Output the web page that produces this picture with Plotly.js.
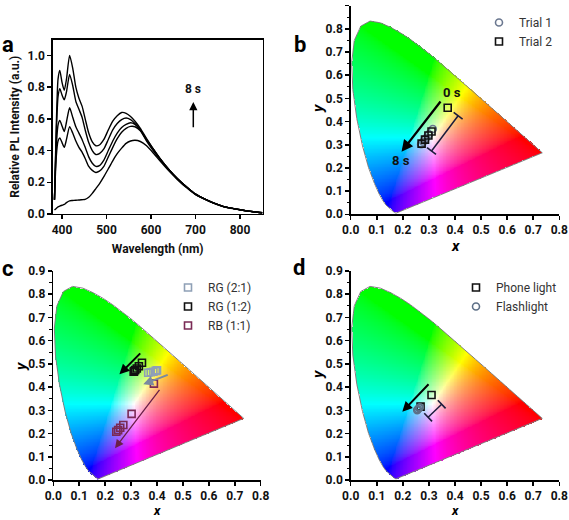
<!DOCTYPE html>
<html><head><meta charset="utf-8">
<script src="https://cdn.plot.ly/plotly-3.0.1.min.js"></script>
<style>html,body{margin:0;padding:0;background:#fff}#chart{width:569px;height:520px}</style>
</head><body><div id="chart"></div>
<script>
// ---------- Panel a : PL spectra ----------
const wavelength = [383,387,391,395,400,405,410,417,424,431,438,445,452,460,468,476,484,494,504,514,524,534,544,554,564,576,590,605,620,640,660,680,700,720,740,760,780,800,820,840,850];
const pl_8s = [0.09,0.55,0.85,0.905,0.83,0.78,0.85,1.00,0.92,0.80,0.73,0.68,0.60,0.51,0.455,0.43,0.435,0.47,0.53,0.585,0.62,0.64,0.635,0.615,0.585,0.54,0.475,0.41,0.35,0.28,0.22,0.17,0.125,0.095,0.07,0.05,0.037,0.027,0.018,0.011,0.008];
const pl_6s = [0.09,0.50,0.74,0.79,0.75,0.72,0.77,0.88,0.81,0.71,0.66,0.61,0.53,0.45,0.40,0.375,0.38,0.41,0.47,0.53,0.57,0.595,0.605,0.595,0.57,0.53,0.47,0.41,0.35,0.28,0.22,0.17,0.125,0.095,0.07,0.05,0.037,0.027,0.018,0.011,0.008];
const pl_4s = [0.09,0.42,0.56,0.59,0.555,0.52,0.58,0.67,0.61,0.55,0.51,0.47,0.42,0.36,0.32,0.30,0.305,0.34,0.40,0.46,0.51,0.545,0.565,0.575,0.565,0.53,0.465,0.405,0.348,0.28,0.22,0.17,0.125,0.095,0.07,0.05,0.037,0.027,0.018,0.011,0.008];
const pl_2s = [0.09,0.36,0.46,0.48,0.45,0.42,0.47,0.55,0.51,0.46,0.42,0.39,0.35,0.30,0.275,0.262,0.27,0.30,0.36,0.42,0.475,0.515,0.54,0.552,0.55,0.525,0.46,0.40,0.345,0.278,0.22,0.17,0.125,0.095,0.07,0.05,0.037,0.027,0.018,0.011,0.008];
const pl_0s = [0.025,0.035,0.045,0.05,0.055,0.06,0.072,0.083,0.085,0.087,0.088,0.09,0.092,0.105,0.13,0.16,0.19,0.235,0.285,0.335,0.38,0.415,0.445,0.46,0.465,0.457,0.43,0.385,0.335,0.272,0.215,0.165,0.122,0.093,0.068,0.049,0.036,0.026,0.018,0.011,0.008];
const aArrowWl = [695, 695];
const aArrowI = [0.537, 0.706];
const aLabelWl = [695], aLabelI = [0.79], aLabelText = ['8 s'];

// ---------- CIE 1931 spectral locus (380-700 nm) ----------
const locusX = [0.1741,0.1740,0.1738,0.1736,0.1733,0.1730,0.1726,0.1721,0.1714,0.1703,0.1689,0.1669,0.1644,0.1611,0.1566,0.1510,0.1440,0.1355,0.1241,0.1096,0.0913,0.0687,0.0454,0.0235,0.0082,0.0039,0.0139,0.0389,0.0743,0.1142,0.1547,0.1929,0.2296,0.2658,0.3016,0.3373,0.3731,0.4087,0.4441,0.4788,0.5125,0.5448,0.5752,0.6029,0.6270,0.6482,0.6658,0.6801,0.6915,0.7006,0.7079,0.7140,0.7190,0.7230,0.7260,0.7283,0.7300,0.7311,0.7320,0.7334,0.7344,0.7347];
const locusY = [0.0050,0.0050,0.0049,0.0049,0.0048,0.0048,0.0048,0.0048,0.0051,0.0058,0.0069,0.0086,0.0109,0.0138,0.0177,0.0227,0.0297,0.0399,0.0578,0.0868,0.1327,0.2007,0.2950,0.4127,0.5384,0.6548,0.7502,0.8120,0.8338,0.8262,0.8059,0.7816,0.7543,0.7243,0.6923,0.6589,0.6245,0.5896,0.5547,0.5202,0.4866,0.4544,0.4242,0.3965,0.3725,0.3514,0.3340,0.3197,0.3083,0.2993,0.2920,0.2859,0.2809,0.2770,0.2740,0.2717,0.2700,0.2689,0.2680,0.2666,0.2656,0.2653];

// ---------- Panel b ----------
const trial1X = [0.315,0.300,0.288,0.278,0.270];
const trial1Y = [0.368,0.345,0.328,0.313,0.302];
const trial2X = [0.372,0.310,0.298,0.285,0.272];
const trial2Y = [0.460,0.357,0.340,0.322,0.305];
const bArrowX = [0.349, 0.195], bArrowY = [0.493, 0.270];
const bBarX = [0.412, 0.310], bBarY = [0.425, 0.273];
const bLabelX = [0.387, 0.192], bLabelY = [0.526, 0.234], bLabelText = ['0 s', '8 s'];

// ---------- Panel c ----------
const rg21X = [0.366,0.376,0.386,0.395,0.400];
const rg21Y = [0.462,0.464,0.466,0.470,0.472];
const rg12X = [0.342,0.330,0.322,0.316,0.312,0.310];
const rg12Y = [0.505,0.490,0.480,0.474,0.469,0.466];
const rb11X = [0.388,0.302,0.270,0.258,0.250,0.243];
const rb11Y = [0.415,0.285,0.237,0.225,0.215,0.208];
const cArrowBlackX = [0.341,0.255], cArrowBlackY = [0.552,0.455];
const cArrowGrayX = [0.447,0.347], cArrowGrayY = [0.455,0.412];
const cArrowMaroonX = [0.414,0.238], cArrowMaroonY = [0.395,0.137];

// ---------- Panel d ----------
const phoneX = [0.310,0.268], phoneY = [0.366,0.316];
const flashX = [0.262,0.258,0.255,0.265], flashY = [0.310,0.305,0.301,0.313];
const dArrowX = [0.304,0.198], dArrowY = [0.419,0.294];
const dBarX = [0.349,0.297], dBarY = [0.326,0.270];

const cieTicksX = [0,0.1,0.2,0.3,0.4,0.5,0.6,0.7,0.8];
const cieTicksY = [0,0.1,0.2,0.3,0.4,0.5,0.6,0.7,0.8,0.9];
const cieAxisTitles = ['x', 'y'];

// ---------- styles ----------
const FONT = 'Roboto, "Liberation Sans", Arial, sans-serif';

// CIE colour field (background rendering of chromaticity -> RGB)
function inside(px, py) {
  let c = false; const n = locusX.length;
  for (let i = 0, j = n - 1; i < n; j = i++) {
    const xi = locusX[i], yi = locusY[i], xj = locusX[j], yj = locusY[j];
    if (((yi > py) !== (yj > py)) && (px < (xj - xi) * (py - yi) / (yj - yi) + xi)) c = !c;
  }
  return c;
}
function gam(c){ return Math.pow(c, 0.62); }
function xyColor(x, y) {
  const X = x / y, Y = 1, Z = (1 - x - y) / y;
  let r = 3.2406*X - 1.5372*Y - 0.4986*Z;
  let g = -0.9689*X + 1.8758*Y + 0.0415*Z;
  let b = 0.0557*X - 0.2040*Y + 1.0570*Z;
  r = Math.max(r, 0); g = Math.max(g, 0); b = Math.max(b, 0);
  const m = Math.max(r, g, b) || 1;
  return [Math.round(255*gam(r/m)), Math.round(255*gam(g/m)), Math.round(255*gam(b/m)), 1];
}
const SX = 0.003, SY = 0.0034;
const NC = Math.ceil(0.75 / SX), NR = Math.ceil(0.85 / SY);
const cieZ = [];
for (let j = 0; j < NR; j++) {
  const row = []; const y = SY/2 + j*SY;
  for (let i = 0; i < NC; i++) {
    const x = SX/2 + i*SX;
    row.push(inside(x, y) ? xyColor(x, y) : [255,255,255,0]);
  }
  cieZ.push(row);
}

const traces = [];
// panel a
[pl_0s, pl_2s, pl_4s, pl_6s, pl_8s].forEach(function (s) {
  traces.push({type:'scatter', mode:'lines', x: wavelength, y: s, xaxis:'x', yaxis:'y',
    line:{color:'#000', width:1.4, shape:'spline', smoothing:0.6}, showlegend:false, hoverinfo:'skip'});
});

function cieBase(ax, ay) {
  traces.push({type:'image', z: cieZ, colormodel:'rgba', x0: SX/2, dx: SX, y0: SY/2, dy: SY,
    xaxis: ax, yaxis: ay, hoverinfo:'skip'});
  traces.push({type:'scatter', mode:'lines', x: locusX.concat([locusX[0]]), y: locusY.concat([locusY[0]]),
    xaxis: ax, yaxis: ay, line:{color:'#808080', width:1}, showlegend:false, hoverinfo:'skip'});
}
// panel b
cieBase('x2','y2');
traces.push({type:'scatter', mode:'lines+markers', x: bBarX, y: bBarY, xaxis:'x2', yaxis:'y2',
  line:{color:'#1c1c3c', width:1.5}, marker:{symbol:'line-ew', size:8, angle:37, line:{color:'#1c1c3c', width:1.6}},
  showlegend:false, hoverinfo:'skip'});
traces.push({type:'scatter', mode:'markers', name:'Trial 1', x: trial1X, y: trial1Y, xaxis:'x2', yaxis:'y2',
  marker:{symbol:'circle-open', size:7, color:'#6b7890', line:{width:1.6}}, legend:'legend'});
traces.push({type:'scatter', mode:'markers', name:'Trial 2', x: trial2X, y: trial2Y, xaxis:'x2', yaxis:'y2',
  marker:{symbol:'square-open', size:7, color:'#111', line:{width:1.6}}, legend:'legend'});
// panel c
cieBase('x3','y3');
traces.push({type:'scatter', mode:'markers', name:'RG (2:1)', x: rg21X, y: rg21Y, xaxis:'x3', yaxis:'y3',
  marker:{symbol:'square-open', size:7, color:'#8fa0b6', line:{width:1.6}}, legend:'legend2'});
traces.push({type:'scatter', mode:'markers', name:'RG (1:2)', x: rg12X, y: rg12Y, xaxis:'x3', yaxis:'y3',
  marker:{symbol:'square-open', size:7, color:'#111', line:{width:1.6}}, legend:'legend2'});
traces.push({type:'scatter', mode:'markers', name:'RB (1:1)', x: rb11X, y: rb11Y, xaxis:'x3', yaxis:'y3',
  marker:{symbol:'square-open', size:7, color:'#7a2a55', line:{width:1.6}}, legend:'legend2'});
// panel d
cieBase('x4','y4');
traces.push({type:'scatter', mode:'lines+markers', x: dBarX, y: dBarY, xaxis:'x4', yaxis:'y4',
  line:{color:'#1c1c3c', width:1.5}, marker:{symbol:'line-ew', size:8, angle:46, line:{color:'#1c1c3c', width:1.6}},
  showlegend:false, hoverinfo:'skip'});
traces.push({type:'scatter', mode:'markers', name:'Phone light', x: phoneX, y: phoneY, xaxis:'x4', yaxis:'y4',
  marker:{symbol:'square-open', size:7, color:'#111', line:{width:1.6}}, legend:'legend3'});
traces.push({type:'scatter', mode:'markers', name:'Flashlight', x: flashX, y: flashY, xaxis:'x4', yaxis:'y4',
  marker:{symbol:'circle-open', size:7, color:'#5d6f86', line:{width:1.6}}, legend:'legend3'});

const tickFont = {family: FONT, size: 12, color: '#111', weight: 'bold'};
function axisCommon(extra) {
  return Object.assign({showline:true, linecolor:'#000', linewidth:1.5, ticks:'outside', ticklen:4, tickwidth:1.5,
    tickcolor:'#000', showgrid:false, zeroline:false, tickfont: tickFont, fixedrange:true}, extra);
}
function cieX(dom, anchor) {
  return axisCommon({domain: dom, anchor: anchor, range:[0,0.8], tickvals: cieTicksX, tickformat:'.1f'});
}
function cieY(dom, anchor) {
  return axisCommon({domain: dom, anchor: anchor, range:[0,0.9], tickvals: cieTicksY, tickformat:'.1f', scaleanchor:false,
    minor:{dtick:0.05, tick0:0, ticks:'outside', ticklen:2.5, tickwidth:1, tickcolor:'#000'}});
}

function arrow(xs, ys, xr, yr, color, width, size) {
  return {x: xs[1], y: ys[1], ax: xs[0], ay: ys[0], xref: xr, yref: yr, axref: xr, ayref: yr,
    showarrow: true, arrowhead: 2, arrowsize: size, arrowwidth: width, arrowcolor: color, text: ''};
}
function label(x, y, t, xr, yr, size) {
  return {x: x, y: y, text: t, xref: xr, yref: yr, showarrow: false,
    font:{family: FONT, size: size, color:'#111', weight:'bold'}};
}
function paperText(t, px, py, size, angle) {
  return {x: px/569, y: 1 - py/520, xref:'paper', yref:'paper', text: t, showarrow:false, textangle: angle || 0,
    xanchor:'center', yanchor:'middle', font:{family: FONT, size: size, color:'#000', weight:'bold'}};
}
function axisTitle(t, px, py, angle, size) {
  return paperText('<i>' + t + '</i>', px, py, size || 15, angle);
}

const annotations = [
  arrow(aArrowWl, aArrowI, 'x', 'y', '#000', 1.5, 1.1),
  label(aLabelWl[0], aLabelI[0], aLabelText[0], 'x', 'y', 12),
  arrow(bArrowX, bArrowY, 'x2', 'y2', '#000', 2.3, 1),
  label(bLabelX[0], bLabelY[0], bLabelText[0], 'x2', 'y2', 13),
  label(bLabelX[1], bLabelY[1], bLabelText[1], 'x2', 'y2', 13),
  arrow(cArrowBlackX, cArrowBlackY, 'x3', 'y3', '#000', 2, 1),
  arrow(cArrowGrayX, cArrowGrayY, 'x3', 'y3', '#7a8aa0', 2, 1),
  arrow(cArrowMaroonX, cArrowMaroonY, 'x3', 'y3', '#6a1f48', 1.3, 1.3),
  arrow(dArrowX, dArrowY, 'x4', 'y4', '#000', 2, 1),
  axisTitle(cieAxisTitles[0], 455, 246, 0), axisTitle(cieAxisTitles[1], 318, 109, -90),
  axisTitle(cieAxisTitles[0], 157, 510, 0, 13), axisTitle(cieAxisTitles[1], 21, 367, -90),
  axisTitle(cieAxisTitles[0], 455, 510, 0, 13), axisTitle(cieAxisTitles[1], 318, 375, -90),
  paperText('a', 8, 44, 22), paperText('b', 300, 44, 22), paperText('c', 8, 268, 22), paperText('d', 299, 267, 22)
];

const legendBase = {xanchor:'left', yanchor:'top', bgcolor:'rgba(0,0,0,0)', borderwidth:0,
  font:{family: FONT, size:12, color:'#333'}, itemclick:false, itemdoubleclick:false};

const layout = {
  width: 569, height: 520, margin:{l:0, r:0, t:0, b:0}, paper_bgcolor:'#fff', plot_bgcolor:'rgba(0,0,0,0)',
  hovermode: false, showlegend: true,
  xaxis: axisCommon({domain:[0.0926,0.4617], anchor:'y', range:[379,851], dtick:100, tick0:0, mirror:true,
    title:{text:'Wavelength (nm)', font:{family: FONT, size:12, color:'#111', weight:'bold'}, standoff:8}}),
  yaxis: axisCommon({domain:[0.5885,0.924], anchor:'x', range:[0,1.1], dtick:0.2, tick0:0, tickformat:'.1f', mirror:true,
    title:{text:'Relative PL Intensity (a.u.)', font:{family: FONT, size:12, color:'#111', weight:'bold'}, standoff:5}}),
  xaxis2: cieX([0.6163,0.983], 'y2'), yaxis2: cieY([0.5879,0.989], 'x2'),
  xaxis3: cieX([0.0937,0.4582], 'y3'), yaxis3: cieY([0.0769,0.4788], 'x3'),
  xaxis4: cieX([0.6163,0.983], 'y4'), yaxis4: cieY([0.0769,0.4788], 'x4'),
  legend: Object.assign({}, legendBase, {x: 479/569, y: 1 - 8/520}),
  legend2: Object.assign({}, legendBase, {x: 168/569, y: 1 - 273/520}),
  legend3: Object.assign({}, legendBase, {x: 456/569, y: 1 - 273/520}),
  annotations: annotations
};

Plotly.newPlot('chart', traces, layout, {staticPlot: true, displayModeBar: false});
</script></body></html>
